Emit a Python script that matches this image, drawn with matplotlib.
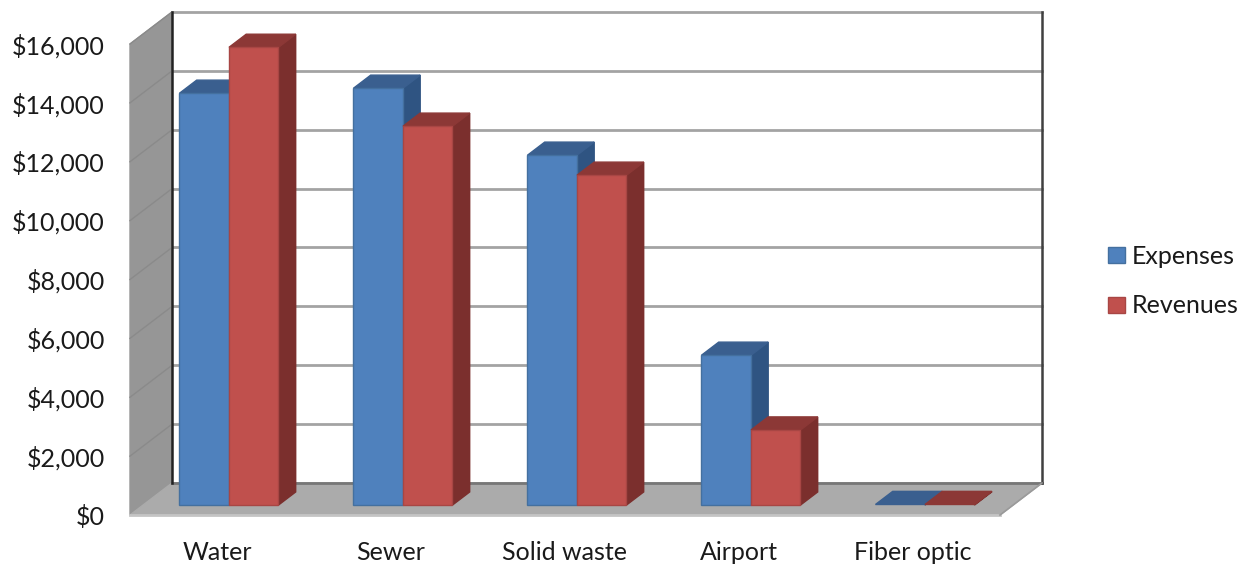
"""Excel-style 3D clustered columns, expenses vs revenues by utility."""

import matplotlib

matplotlib.use("Agg")

import matplotlib.pyplot as plt
from matplotlib.patches import Patch, Polygon

categories = ["Water", "Sewer", "Solid waste", "Airport", "Fiber optic"]
expenses = [13990, 14160, 11885, 5090, 20]
revenues = [15550, 12870, 11205, 2550, 20]
y_ticks = [0, 2000, 4000, 6000, 8000, 10000, 12000, 14000, 16000]

W, H = 1247, 564
LEFT, RIGHT, BOTTOM, TOP = 130, 1000, 515, 44

# oblique projection: depth 1 is the back wall, in axis units
DX = 42 / 174
DY = 32 / 471 * 16000
BAR_W = 49.5 / 174
BAR_FRONT, BAR_BACK = 0.31, 0.72
BAR_SHIFT = -0.006


def project(x, y, depth):
    return (x + depth * DX, y + depth * DY)


def add_face(ax, corners, color, edge=None, z=2):
    pts = [project(*c) for c in corners]
    ax.add_patch(Polygon(pts, closed=True, facecolor=color, edgecolor=edge or color,
                         linewidth=1.0, zorder=z, clip_on=False))


def draw_bar(ax, x0, value, front, top, side, edge, z):
    x1 = x0 + BAR_W
    add_face(ax, [(x1, 0, BAR_FRONT), (x1, 0, BAR_BACK), (x1, value, BAR_BACK), (x1, value, BAR_FRONT)], side, z=z)
    add_face(ax, [(x0, value, BAR_FRONT), (x1, value, BAR_FRONT), (x1, value, BAR_BACK), (x0, value, BAR_BACK)], top, z=z)
    if value > 100:
        add_face(ax, [(x0, 0, BAR_FRONT), (x1, 0, BAR_FRONT), (x1, value, BAR_FRONT), (x0, value, BAR_FRONT)], front, edge=edge, z=z)


plt.rcParams["font.family"] = ["Lato", "DejaVu Sans"]

fig = plt.figure(figsize=(W / 100, H / 100), dpi=100)
ax = fig.add_axes([LEFT / W, 1 - BOTTOM / H, (RIGHT - LEFT) / W, (BOTTOM - TOP) / H])
n = len(categories)
ax.set_xlim(0, n)
ax.set_ylim(0, 16000)
ax.patch.set_visible(False)
for spine in ax.spines.values():
    spine.set_visible(False)

# side wall and floor
add_face(ax, [(0, 0, 0), (0, 0, 1), (0, 16000, 1), (0, 16000, 0)], "#969696", z=1)
add_face(ax, [(0, 0, 0), (n, 0, 0), (n, 0, 1), (0, 0, 1)], "#ababab", z=1)

# gridlines across the side wall and back wall
for v in y_ticks:
    if v > 0:
        xs, ys = zip(project(0, v, 0), project(0, v, 1))
        ax.plot(xs, ys, color="#8a8a8a", lw=1.0, zorder=1.2, clip_on=False)
    xs, ys = zip(project(0, v, 1), project(n, v, 1))
    ax.plot(xs, ys, color="#a3a3a3" if v > 0 else "#777777", lw=2.0, zorder=1.5, clip_on=False)

# back wall uprights, front edge of the floor
for x in (0, n):
    xs, ys = zip(project(x, 0, 1), project(x, 16000, 1))
    ax.plot(xs, ys, color="#222222" if x == 0 else "#404040", lw=1.8, zorder=1.6, clip_on=False)
ax.plot([0, n], [0, 0], color="#c4c4c4", lw=2, zorder=1.6, clip_on=False)
xs, ys = zip(project(n, 0, 0), project(n, 0, 1))
ax.plot(xs, ys, color="#9a9a9a", lw=1.2, zorder=1.6, clip_on=False)

for i in range(n):
    center = i + 0.5 + BAR_SHIFT
    draw_bar(ax, center - BAR_W, expenses[i], "#4f81bd", "#3a5f8f", "#2f5482", "#44709f", 3 + i * 0.1)
    draw_bar(ax, center, revenues[i], "#c0504d", "#8c3836", "#7b2f2d", "#a84644", 3.05 + i * 0.1)

ax.set_yticks(y_ticks)
ax.set_yticklabels([f"${v:,}" for v in y_ticks])
ax.set_xticks([i + 0.5 for i in range(n)])
ax.set_xticklabels(categories)
ax.tick_params(axis="y", length=0, pad=18, labelsize=18, labelcolor="#1a1a1a")
ax.tick_params(axis="x", length=0, pad=19, labelsize=18, labelcolor="#1a1a1a")

handles = [Patch(facecolor="#4f81bd", edgecolor="#44709f", label="Expenses"),
           Patch(facecolor="#c0504d", edgecolor="#a84644", label="Revenues")]
fig.legend(handles=handles, loc="center left", bbox_to_anchor=(1108 / W, 1 - 281 / H), frameon=False,
           fontsize=18, handlelength=0.68, handleheight=0.6, handletextpad=0.25, labelspacing=1.07,
           labelcolor="#1a1a1a", borderpad=0, borderaxespad=0)

fig.savefig("out.png", dpi=100)
